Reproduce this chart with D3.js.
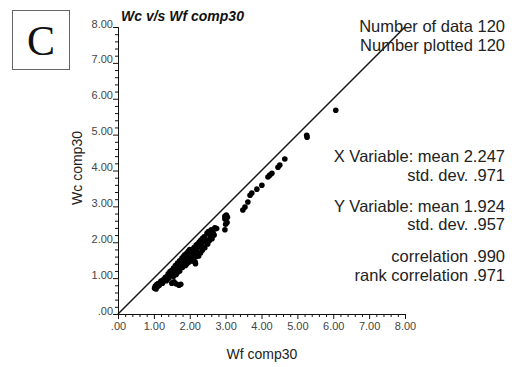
<!DOCTYPE html>
<html>
<head>
<meta charset="utf-8">
<script src="https://cdn.jsdelivr.net/npm/d3@7"></script>
<style>
  body { margin: 0; background: #fff; }
  svg { display: block; font-family: "Liberation Sans", Arial, sans-serif; }
  .axis path, .axis line { stroke: #111; }
  .axis text { fill: #444; font-size: 11px; }
</style>
</head>
<body>
<svg id="chart" width="522" height="367"></svg>
<script>
// Wc vs Wf scatter
var wf = [
  1.02, 1.04, 1.06, 1.08, 1.10, 1.12, 1.15, 1.18, 1.20, 1.24, 1.26, 1.30, 1.32, 1.35,
  1.50, 1.56, 1.70, 1.75, 1.62,
  1.38, 1.40, 1.42, 1.45, 1.48, 1.50, 1.52, 1.55, 1.58, 1.60,
  1.62, 1.64, 1.66, 1.68, 1.70, 1.72, 1.74, 1.76, 1.78, 1.80,
  1.82, 1.84, 1.86, 1.88, 1.90, 1.92, 1.94, 1.96, 1.98, 2.00,
  2.02, 2.04, 2.06, 2.08, 2.10, 2.12, 2.14, 2.16, 2.18, 2.20,
  2.22, 2.24, 2.26, 2.28, 2.30, 2.32, 2.35, 2.38, 2.40,
  2.44, 2.48, 2.52, 2.56, 2.60, 2.65, 2.70, 2.75,
  3.02, 2.98, 3.05, 2.98, 3.04, 3.00, 2.98,
  3.48, 3.54, 3.62, 3.68, 3.73, 3.87, 4.01, 4.18, 4.23, 4.29, 4.46, 4.51, 4.65,
  5.26, 5.27, 6.07,
  1.55, 1.65, 1.72, 1.80, 1.88, 1.92, 1.98, 2.05, 2.10, 2.15, 2.18,
  2.25, 2.30, 2.35, 2.42, 2.50, 2.55, 2.62, 2.68, 2.45, 2.58
]
var wc = [
  0.72, 0.78, 0.70, 0.82, 0.76, 0.85, 0.80, 0.88, 0.92, 0.86, 0.95, 0.98, 1.02, 0.93,
  0.86, 0.90, 0.80, 0.83, 0.84,
  1.05, 1.12, 1.00, 1.18, 1.08, 1.22, 1.15, 1.28, 1.20, 1.35,
  1.10, 1.30, 1.42, 1.25, 1.38, 1.48, 1.32, 1.45, 1.55, 1.40,
  1.60, 1.50, 1.65, 1.42, 1.58, 1.70, 1.52, 1.75, 1.62, 1.80,
  1.55, 1.68, 1.78, 1.48, 1.62, 1.85, 1.72, 1.40, 1.92, 1.80,
  1.95, 1.65, 2.00, 1.88, 2.05, 1.95, 2.10, 2.02, 2.15,
  2.08, 2.25, 2.30, 2.20, 2.35, 2.28, 2.40, 2.38,
  2.76, 2.72, 2.70, 2.65, 2.55, 2.50, 2.35,
  2.90, 2.98, 3.12, 3.31, 3.37, 3.48, 3.59, 3.82, 3.87, 3.92, 4.09, 4.15, 4.32,
  4.98, 4.93, 5.68,
  1.05, 1.15, 1.20, 1.30, 1.35, 1.40, 1.45, 1.50, 1.55, 1.45, 1.60,
  1.62, 1.70, 1.78, 1.85, 1.95, 2.05, 2.10, 2.20, 2.00, 2.15
]
var majorTicks = [0, 1, 2, 3, 4, 5, 6, 7, 8]
var statsLines = [
  'Number of data 120',
  'Number plotted 120',
  'X Variable: mean 2.247',
  'std. dev. .971',
  'Y Variable: mean 1.924',
  'std. dev. .957',
  'correlation .990',
  'rank correlation .971'
]
var statsY = [32, 51, 162, 181, 212, 230, 262, 281]

var svg = d3.select('#chart')
var x0 = 118, x1 = 405, y0 = 314, y1 = 27

var x = d3.scaleLinear().domain([0, 8]).range([x0, x1])
var y = d3.scaleLinear().domain([0, 8]).range([y0, y1])

var fmt = function (d) { return d === 0 ? '.00' : d3.format('.2f')(d) }
var minorTicks = d3.range(0, 40).map(function (i) { return i * 0.2 }).filter(function (d) { return Math.abs(d - Math.round(d)) > 0.01 })

// minor ticks
svg.append('g')
    .attr('class', 'axis')
    .attr('transform', 'translate(0,' + y0 + ')')
    .call(d3.axisBottom(x).tickValues(minorTicks).tickSize(3).tickFormat(''))
svg.append('g')
    .attr('class', 'axis')
    .attr('transform', 'translate(' + x0 + ',0)')
    .call(d3.axisLeft(y).tickValues(minorTicks).tickSize(3).tickFormat(''))

// major ticks
var xAxis = svg.append('g')
    .attr('class', 'axis')
    .attr('transform', 'translate(0,' + y0 + ')')
    .call(d3.axisBottom(x).tickValues(majorTicks).tickSize(5).tickSizeOuter(0).tickFormat(fmt))
xAxis.selectAll('text').attr('y', 8)

var yAxis = svg.append('g')
    .attr('class', 'axis')
    .attr('transform', 'translate(' + x0 + ',0)')
    .call(d3.axisLeft(y).tickValues(majorTicks).tickSize(5).tickSizeOuter(0).tickFormat(fmt))
yAxis.selectAll('text').attr('dy', '0').attr('y', 0).attr('x', -5)

// y = x line
svg.append('line')
    .attr('x1', x(0)).attr('y1', y(0))
    .attr('x2', x(8)).attr('y2', y(8))
    .attr('stroke', '#111')
    .attr('stroke-width', 1.4)

// points
svg.selectAll('.dot')
    .data(wf)
  .enter().append('circle')
    .attr('class', 'dot')
    .attr('cx', function (d) { return x(d) })
    .attr('cy', function (d, i) { return y(wc[i]) })
    .attr('r', 2.8)
    .attr('fill', '#000')

// title
svg.append('text')
    .attr('x', 121).attr('y', 21)
    .attr('font-size', 14)
    .attr('font-weight', 'bold')
    .attr('font-style', 'italic')
    .attr('fill', '#111')
    .text('Wc v/s Wf comp30')

// axis titles
svg.append('text')
    .attr('x', 262).attr('y', 359)
    .attr('text-anchor', 'middle')
    .attr('font-size', 14)
    .attr('fill', '#222')
    .text('Wf comp30')
svg.append('text')
    .attr('transform', 'translate(82,168) rotate(-90)')
    .attr('text-anchor', 'middle')
    .attr('font-size', 14)
    .attr('fill', '#222')
    .text('Wc comp30')

// stats block
svg.selectAll('.stat')
    .data(statsLines)
  .enter().append('text')
    .attr('class', 'stat')
    .attr('x', 505)
    .attr('y', function (d, i) { return statsY[i] })
    .attr('text-anchor', 'end')
    .attr('font-size', 16.5)
    .attr('fill', '#222')
    .text(function (d) { return d })

// panel letter
svg.append('rect')
    .attr('x', 12.5).attr('y', 10.5)
    .attr('width', 57).attr('height', 59)
    .attr('fill', 'none')
    .attr('stroke', '#666')
svg.append('text')
    .attr('x', 41).attr('y', 55)
    .attr('text-anchor', 'middle')
    .attr('font-family', '"Liberation Serif", "Times New Roman", serif')
    .attr('font-size', 42)
    .attr('fill', '#111')
    .text('C')
</script>
</body>
</html>
